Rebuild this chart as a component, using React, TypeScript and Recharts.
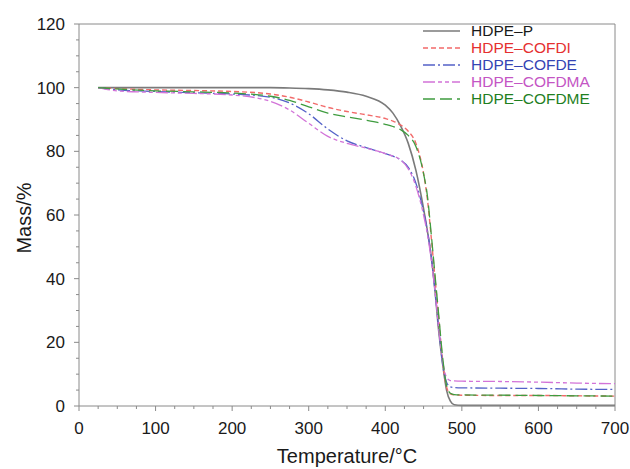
import { LineChart, Line, XAxis, YAxis, ReferenceLine, Legend } from 'recharts';

// temperature (°C) and residual mass (%) for each sample
const temps = [25, 50, 100, 150, 200, 250, 275, 300, 325, 350, 375, 400, 410, 420, 430, 440, 450, 455, 460, 465, 470, 475, 480, 485, 490, 500, 550, 600, 650, 700];
const hdpeP = [100, 100, 100, 100, 100, 100, 99.9, 99.7, 99.3, 98.6, 97.3, 94.5, 92, 88, 82.5, 74, 62, 55, 47, 36, 23, 13, 5, 1.5, 0.4, 0.2, 0.2, 0.2, 0.2, 0.2];
const cofdi = [100, 99.7, 99.3, 99.1, 98.8, 98, 97, 95.5, 93.8, 92.5, 91.5, 90.3, 89.5, 88.3, 86.3, 82.5, 73, 65, 53, 40, 27, 14, 6, 3.8, 3.5, 3.4, 3.3, 3.3, 3.2, 3.1];
const cofde = [100, 99.3, 98.8, 98.4, 98, 97, 95.2, 91.8, 87, 83.3, 81.2, 79.3, 78.5, 77.3, 75, 70, 61, 55, 47, 36, 24, 13, 7.5, 6, 5.8, 5.7, 5.6, 5.5, 5.3, 5.2];
const cofdma = [100, 99, 98.5, 98.2, 97.7, 95.7, 93, 88.8, 84.7, 82.5, 81, 79.3, 78.5, 77.3, 74.5, 69, 60, 54, 46, 36, 24, 14, 9, 8, 7.9, 7.8, 7.7, 7.5, 7.2, 7];
const cofdme = [100, 99.6, 99, 98.7, 98.3, 97.3, 96, 94, 92, 90.8, 89.8, 88.5, 87.8, 86.8, 85, 81.5, 73, 66, 54, 41, 28, 15, 6.5, 4, 3.6, 3.5, 3.4, 3.3, 3.2, 3.1];

const xTicks = [0, 25, 50, 75, 100, 125, 150, 175, 200, 225, 250, 275, 300, 325, 350, 375, 400, 425, 450, 475, 500, 525, 550, 575, 600, 625, 650, 675, 700];
const yTicks = [0, 5, 10, 15, 20, 25, 30, 35, 40, 45, 50, 55, 60, 65, 70, 75, 80, 85, 90, 95, 100, 105, 110, 115, 120];

const data = temps.map((t, i) => ({
  t,
  p: hdpeP[i],
  di: cofdi[i],
  de: cofde[i],
  dma: cofdma[i],
  dme: cofdme[i],
}));

const series = [
  { key: 'p', name: 'HDPE–P', stroke: '#7a7a7a', text: '#1a1a1a', dash: undefined, width: 1.6 },
  { key: 'di', name: 'HDPE–COFDI', stroke: '#f26a6a', text: '#e53030', dash: '5 3', width: 1.4 },
  { key: 'de', name: 'HDPE–COFDE', stroke: '#5462c8', text: '#3444b4', dash: '12 3 2 3', width: 1.3 },
  { key: 'dma', name: 'HDPE–COFDMA', stroke: '#d273d8', text: '#c455c4', dash: '12 3 4 3 4 3', width: 1.3 },
  { key: 'dme', name: 'HDPE–COFDME', stroke: '#3f9c3f', text: '#1f7f1f', dash: '12 5', width: 1.3 },
];

const axisColor = '#8a8a8a';
const font = '"Liberation Sans", Arial, sans-serif';

const XTick = ({ x, y, payload }: any) => {
  const major = payload.value % 100 === 0;
  return (
    <g>
      <line x1={x} x2={x} y1={y} y2={y + (major ? 5 : 3)} stroke={axisColor} />
      {major && (
        <text x={x} y={y + 28} textAnchor="middle" fontSize={17} fill="#1a1a1a" fontFamily={font}>
          {payload.value}
        </text>
      )}
    </g>
  );
};

const YTick = ({ x, y, payload }: any) => {
  const major = payload.value % 20 === 0;
  return (
    <g>
      <line x1={x - (major ? 5 : 3)} x2={x} y1={y} y2={y} stroke={axisColor} />
      {major && (
        <text x={x - 14} y={y + 6} textAnchor="end" fontSize={17} fill="#1a1a1a" fontFamily={font}>
          {payload.value}
        </text>
      )}
    </g>
  );
};

const LegendBox = () => (
  <div style={{ fontFamily: font, fontSize: 15.5 }}>
    {series.map((s) => (
      <div key={s.key} style={{ display: 'flex', alignItems: 'center', height: 17 }}>
        <svg width={37} height={6} style={{ marginRight: 11 }}>
          <line x1={0} x2={37} y1={3} y2={3} stroke={s.stroke} strokeWidth={1.6} strokeDasharray={s.dash} />
        </svg>
        <span style={{ color: s.text, lineHeight: '17px' }}>{s.name}</span>
      </div>
    ))}
  </div>
);

export default function App() {
  return (
    <div style={{ position: 'absolute', left: 0, top: 0, background: '#fff' }}>
      <LineChart width={630} height={469} data={data} margin={{ top: 24, right: 15, left: 0, bottom: 0 }}>
        <XAxis
          dataKey="t"
          type="number"
          domain={[0, 700]}
          ticks={xTicks}
          interval={0}
          tickSize={0}
          tickMargin={0}
          height={63}
          stroke={axisColor}
          tick={<XTick />}
          label={{
            content: ({ viewBox }: any) => (
              <text x={viewBox.x + viewBox.width / 2} y={viewBox.y + 57} textAnchor="middle" fontSize={20} fill="#1a1a1a" fontFamily={font}>
                Temperature/°C
              </text>
            ),
          }}
        />
        <YAxis
          type="number"
          domain={[0, 120]}
          ticks={yTicks}
          interval={0}
          tickSize={0}
          tickMargin={0}
          width={79}
          stroke={axisColor}
          tick={<YTick />}
          label={{
            content: ({ viewBox }: any) => {
              const cx = 31;
              const cy = viewBox.y + viewBox.height / 2 + 3;
              return (
                <text x={cx} y={cy} transform={`rotate(-90 ${cx} ${cy})`} textAnchor="middle" fontSize={20} fill="#1a1a1a" fontFamily={font}>
                  Mass/%
                </text>
              );
            },
          }}
        />
        <ReferenceLine y={120} stroke={axisColor} />
        <ReferenceLine x={700} stroke={axisColor} />
        {series.map((s) => (
          <Line
            key={s.key}
            dataKey={s.key}
            name={s.name}
            type="monotone"
            stroke={s.stroke}
            strokeWidth={s.width}
            strokeDasharray={s.dash}
            dot={false}
            isAnimationActive={false}
          />
        ))}
        <Legend
          layout="vertical"
          align="center"
          verticalAlign="middle"
          content={<LegendBox />}
          wrapperStyle={{ top: 22, left: 423, width: 200, height: 90 }}
        />
      </LineChart>
    </div>
  );
}
